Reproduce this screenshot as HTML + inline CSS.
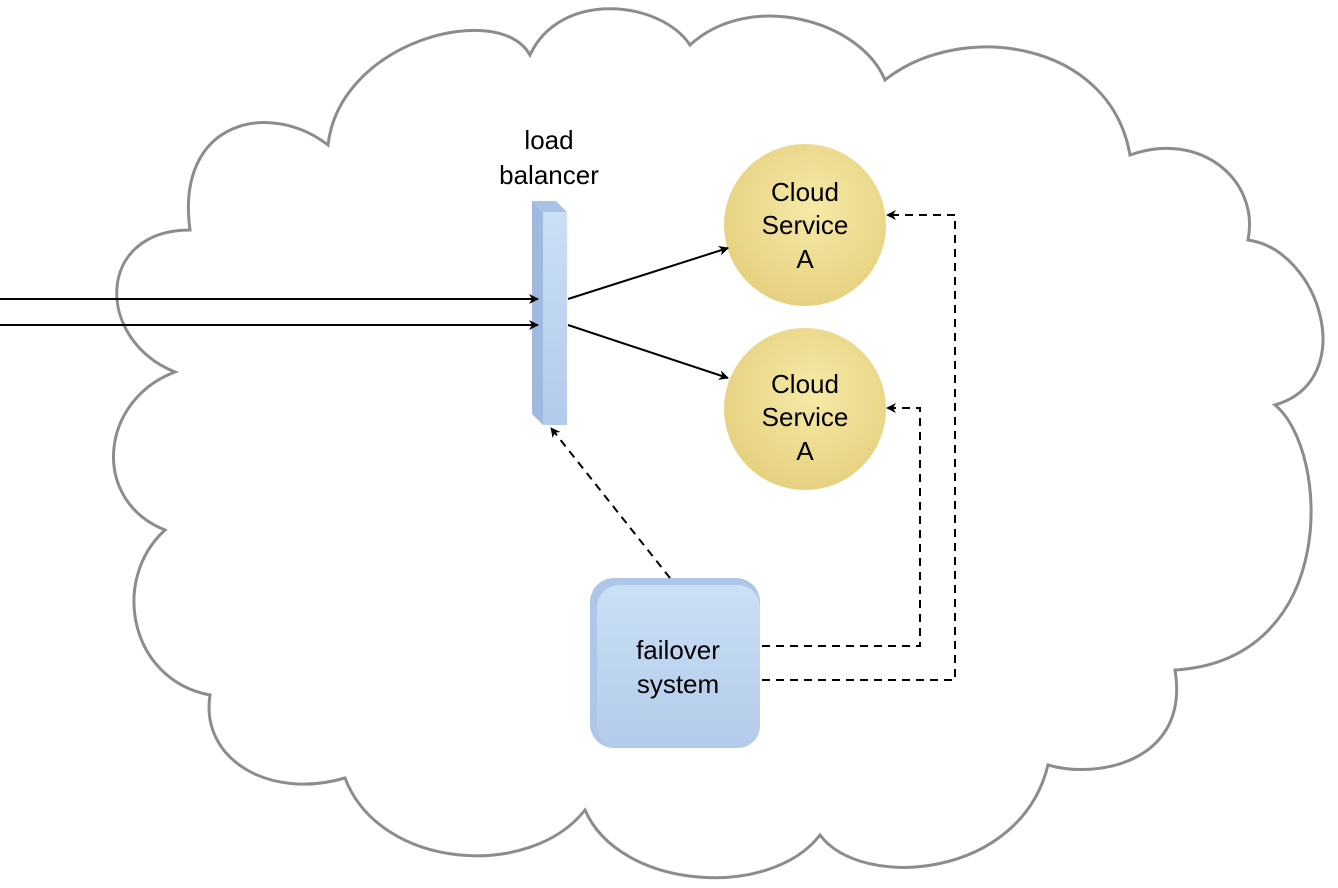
<!DOCTYPE html>
<html><head><style>body{margin:0;background:#fff}svg{display:block}text{font-family:"Liberation Sans",Arial,sans-serif;font-size:26px;fill:#000;text-anchor:middle}</style></head>
<body>
<svg width="1338" height="888" viewBox="0 0 1338 888" xmlns="http://www.w3.org/2000/svg">
<defs>
<radialGradient id="g" cx="0.55" cy="0.4" r="0.6"><stop offset="0" stop-color="#f5eaa6"/><stop offset="1" stop-color="#e6d180"/></radialGradient>
<linearGradient id="b" x1="0" y1="0" x2="0" y2="1"><stop offset="0" stop-color="#c9e0f5"/><stop offset="1" stop-color="#b3cbea"/></linearGradient>
<marker id="a" viewBox="0 0 10 10" refX="9" refY="5" markerWidth="10" markerHeight="10" orient="auto" markerUnits="userSpaceOnUse"><path d="M0,0 L10,5 L0,10 L3,5Z" fill="#000"/></marker>
</defs>
<path d="M175,372 C95,340 95,230 190,230 C175,120 270,100 328,145 C340,40 500,0 530,55 C560,-10 660,0 690,45 C750,-10 860,20 885,80 C960,20 1110,40 1130,155 C1200,130 1260,180 1248,240 C1320,250 1360,380 1275,405 C1330,450 1340,660 1175,670 C1190,760 1100,780 1048,765 C1020,880 860,890 820,835 C770,900 620,890 585,810 C530,880 380,870 345,778 C270,800 200,760 210,695 C130,680 110,580 165,530 C90,500 100,400 175,372 Z" fill="#fff" stroke="#8c8c8c" stroke-width="3"/>
<text x="549" y="149">load</text><text x="549" y="184">balancer</text>
<polygon points="532,201 556,201 567,212 543,212" fill="#a9c3e6"/>
<polygon points="532,201 543,212 543,425 532,414" fill="#a0b9e0"/>
<rect x="543" y="212" width="24" height="213" fill="url(#b)"/>
<circle cx="805" cy="225" r="81" fill="url(#g)"/>
<circle cx="805" cy="409" r="81" fill="url(#g)"/>
<text x="805" y="201">Cloud</text><text x="805" y="234">Service</text><text x="805" y="268">A</text>
<text x="805" y="393">Cloud</text><text x="805" y="426">Service</text><text x="805" y="460">A</text>
<rect x="590" y="578" width="170" height="170" rx="24" fill="#aec6e8"/>
<rect x="597" y="585" width="163" height="163" rx="22" fill="url(#b)"/>
<text x="678" y="659">failover</text><text x="678" y="693">system</text>
<g stroke="#000" stroke-width="2" fill="none">
<line x1="0" y1="299" x2="538" y2="299" marker-end="url(#a)"/>
<line x1="0" y1="325" x2="538" y2="325" marker-end="url(#a)"/>
<line x1="568" y1="299" x2="728" y2="248" marker-end="url(#a)"/>
<line x1="568" y1="325" x2="728" y2="378" marker-end="url(#a)"/>
<g stroke-dasharray="8,6">
<line x1="670" y1="578" x2="551" y2="428" marker-end="url(#a)"/>
<polyline points="762,646 920,646 920,408 887,408" marker-end="url(#a)"/>
<polyline points="762,680 955,680 955,215 887,215" marker-end="url(#a)"/>
</g></g>
</svg></body></html>
